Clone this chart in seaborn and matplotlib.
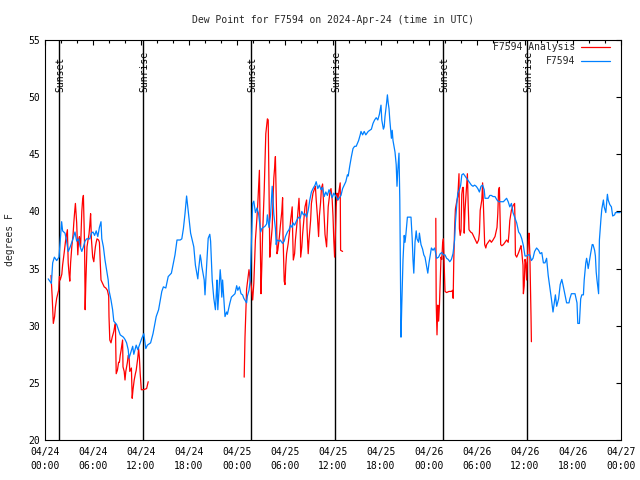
import matplotlib
matplotlib.use("Agg")
import matplotlib.pyplot as plt
import matplotlib.transforms as mtransforms
from matplotlib.lines import Line2D
import numpy as np
import pandas as pd
import seaborn as sns

# ---------------- data ----------------
title = "Dew Point for F7594 on 2024-Apr-24 (time in UTC)"
ylabel = "degrees F"
series_names = ["F7594 Analysis", "F7594"]
series_colors = ["#ff0000", "#0080ff"]

xtick_hours = [0, 6, 12, 18, 24, 30, 36, 42, 48, 54, 60, 66, 72]
xtick_labels = ["04/24\n00:00", "04/24\n06:00", "04/24\n12:00", "04/24\n18:00",
                "04/25\n00:00", "04/25\n06:00", "04/25\n12:00", "04/25\n18:00",
                "04/26\n00:00", "04/26\n06:00", "04/26\n12:00", "04/26\n18:00",
                "04/27\n00:00"]
ytick_values = [20, 25, 30, 35, 40, 45, 50, 55]

event_hours = [1.75, 12.25, 25.75, 36.25, 49.75, 60.25]
event_labels = ["Sunset", "Sunrise", "Sunset", "Sunrise", "Sunset", "Sunrise"]

# observed station dew point (hours since 04/24 00:00 UTC, degF)
station_hours = [
    0.4, 0.8, 0.96, 1.17, 1.46, 1.75, 1.9, 2.08, 2.2, 2.5, 2.7, 2.9, 3.1, 3.3, 3.5, 3.75, 3.96,
    4.2, 4.4, 4.6, 4.8, 5.0, 5.2, 5.6, 5.8, 6.0, 6.2, 6.4, 6.6, 6.8, 7.0, 7.1, 7.3, 7.5, 7.7,
    7.9, 8.0, 8.25, 8.45, 8.6, 8.96, 9.2, 9.4, 9.8, 10.0, 10.2, 10.4, 10.5, 10.7, 10.96, 11.1,
    11.4, 11.6, 11.8, 12.1, 12.35, 12.6, 12.8, 13.2, 13.5, 13.9, 14.2, 14.6, 14.8, 15.1, 15.4,
    15.8, 16.0, 16.25, 16.5, 16.9, 17.1, 17.3, 17.5, 17.7, 17.8, 18.0, 18.2, 18.4, 18.6, 18.8,
    18.9, 19.1, 19.2, 19.4, 19.5, 19.6, 19.9, 20.0, 20.1, 20.4, 20.6, 20.7, 20.8, 20.9, 21.1,
    21.3, 21.4, 21.5, 21.6, 21.9, 22.0, 22.1, 22.2, 22.4, 22.5, 22.7, 22.8, 23.1, 23.3, 23.75,
    23.96, 24.1, 24.3, 24.5, 24.7, 24.85, 25.2, 25.3, 25.5, 25.65, 25.8, 25.96, 26.1, 26.3,
    26.5, 26.7, 26.96, 27.1, 27.3, 27.5, 27.7, 27.8, 28.0, 28.2, 28.4, 28.5, 28.6, 28.8, 28.9,
    29.0, 29.3, 29.4, 29.7, 29.9, 30.05, 30.3, 30.5, 30.7, 30.9, 31.0, 31.2, 31.45, 31.7, 31.9,
    32.1, 32.3, 32.5, 32.7, 32.9, 33.1, 33.3, 33.5, 33.75, 33.9, 34.1, 34.3, 34.5, 34.7, 34.9,
    35.1, 35.3, 35.5, 35.7, 35.9, 36.1, 36.4, 36.6, 36.8, 37.0, 37.2, 37.4, 37.6, 37.8, 37.9,
    38.1, 38.3, 38.5, 38.7, 38.9, 39.2, 39.4, 39.5, 39.7, 39.9, 40.1, 40.4, 40.6, 40.8, 41.0,
    41.2, 41.4, 41.6, 41.8, 42.0, 42.1, 42.3, 42.4, 42.5, 42.7, 42.8, 42.9, 43.0, 43.1, 43.3,
    43.4, 43.5, 43.75, 43.9, 44.0, 44.1, 44.25, 44.35, 44.45, 44.5, 44.6, 44.75, 44.9, 45.0,
    45.1, 45.3, 45.5, 45.75, 45.9, 46.0, 46.1, 46.25, 46.4, 46.5, 46.7, 46.8, 47.0, 47.2,
    47.35, 47.5, 47.7, 47.85, 48.0, 48.2, 48.3, 48.5, 48.7, 48.96, 49.2, 49.4, 49.6, 49.8,
    50.0, 50.2, 50.4, 50.6, 50.8, 51.0, 51.2, 51.3, 51.5, 51.6, 51.8, 51.96, 52.1, 52.3, 52.4,
    52.6, 52.8, 53.0, 53.3, 53.5, 53.7, 53.9, 54.1, 54.3, 54.5, 54.7, 54.9, 55.0, 55.2, 55.4,
    55.6, 55.8, 56.0, 56.25, 56.5, 56.7, 56.9, 57.1, 57.3, 57.5, 57.7, 57.9, 58.1, 58.3, 58.5,
    58.7, 58.96, 59.2, 59.4, 59.6, 59.8, 60.0, 60.2, 60.4, 60.6, 60.8, 61.0, 61.2, 61.45, 61.7,
    61.9, 62.1, 62.3, 62.5, 62.7, 62.9, 63.1, 63.3, 63.5, 63.8, 63.96, 64.2, 64.4, 64.6, 64.8,
    65.0, 65.2, 65.5, 65.6, 65.8, 66.0, 66.25, 66.5, 66.6, 66.8, 66.96, 67.1, 67.3, 67.4, 67.6,
    67.7, 67.8, 67.9, 68.1, 68.2, 68.3, 68.4, 68.5, 68.7, 68.8, 68.9, 69.0, 69.1, 69.2, 69.3,
    69.5, 69.6, 69.8, 69.9, 70.1, 70.3, 70.4, 70.6, 70.8, 70.96, 71.2, 71.3, 71.7, 71.9]
station_dewpt = [
    34.1, 33.7, 35.5, 36.0, 35.7, 36.0, 37.4, 39.1, 38.3, 38.1, 37.4, 36.5, 36.8, 37.2, 37.6, 38.2, 37.4,
    37.6, 36.9, 36.5, 36.9, 37.4, 37.6, 37.6, 38.1, 38.2, 37.9, 38.3, 37.8, 38.6, 39.1, 37.6, 36.9, 35.75, 34.9,
    34.0, 33.1, 32.25, 31.4, 30.4, 30.1, 29.6, 29.2, 29.0, 28.8, 28.5, 27.9, 27.15, 27.6, 28.2, 27.5,
    28.3, 27.9, 28.3, 28.9, 29.3, 28.0, 28.3, 28.5, 29.3, 30.8, 31.4, 33.0, 33.4, 33.3, 34.3,
    34.6, 35.3, 36.2, 37.5, 37.5, 37.6, 38.5, 39.8, 41.35, 40.7, 39.4, 38.1, 37.5, 36.9, 35.3,
    34.9, 34.1, 34.9, 36.2, 35.8, 35.2, 34.0, 32.7, 34.0, 37.65, 38.0, 37.4, 35.7, 34.0, 32.4,
    31.4, 32.6, 34.0, 31.4, 34.9, 34.0, 32.5, 34.0, 31.8, 30.8, 31.2, 31.0, 31.95, 32.5, 32.8,
    33.5, 33.1, 33.4, 32.8, 32.7, 32.4, 32.0, 32.6, 33.1, 34.0, 37.2, 40.7, 40.9, 39.9,
    40.3, 39.8, 38.2, 38.5, 38.6, 38.7, 38.9, 39.7, 38.6, 39.7, 42.2, 41.1, 39.8, 38.5, 37.1,
    37.5, 37.4, 37.5, 37.2, 37.4, 37.8, 38.2, 38.4, 38.8, 38.6, 39.0, 38.8, 39.2, 39.5, 39.4,
    40.0, 39.7, 39.8, 39.5, 40.1, 41.0, 41.7, 42.0, 42.3, 42.6, 42.0, 42.3, 41.9, 42.1, 41.3,
    41.7, 41.4, 41.9, 41.6, 41.2, 41.6, 41.3, 41.0, 41.2, 41.4, 42.0, 42.3, 42.6, 43.2, 43.1,
    44.0, 44.8, 45.5, 45.7, 45.7, 46.2, 46.7, 47.0, 46.7, 47.0, 46.7, 47.0, 47.1, 47.2, 47.7,
    48.0, 48.2, 48.0, 48.5, 49.3, 48.0, 47.2, 47.4, 48.3, 49.5, 50.2, 49.5, 49.0, 48.0, 46.4,
    47.1, 46.2, 45.2, 44.1, 42.2, 43.6, 45.1, 41.0, 33.1, 29.0, 31.9, 35.75, 37.9, 37.3,
    37.9, 39.5, 39.5, 39.5, 37.6, 35.75, 34.6, 37.3, 38.3, 37.6, 37.3, 38.1, 37.1, 36.7,
    36.2, 36.0, 35.2, 34.6, 35.5, 36.4, 36.8, 36.6, 36.8, 35.9, 36.0, 36.3, 36.4, 36.2,
    36.2, 35.9, 35.8, 35.6, 35.8, 36.3, 37.5, 39.0, 40.85, 41.6, 41.9, 42.3, 43.2, 43.3, 43.2,
    43.0, 42.8, 42.6, 42.3, 42.2, 42.3, 42.2, 42.0, 41.7, 42.2, 42.3, 41.9, 41.15, 41.15, 41.15,
    41.4, 41.4, 41.3, 41.3, 41.0, 40.85, 40.85, 40.85, 40.85, 41.0, 41.15, 40.85, 40.4, 40.7, 39.9,
    39.5, 39.0, 38.2, 38.0, 37.6, 37.0, 36.1, 36.1, 36.2, 36.2, 35.7, 35.9, 36.5, 36.8, 36.6,
    36.3, 36.4, 35.5, 35.5, 35.9, 34.4, 33.4, 32.35, 31.2, 32.7, 31.7, 32.35, 33.6, 34.05, 33.4,
    32.7, 32.0, 32.0, 32.35, 32.8, 32.8, 32.8, 32.0, 30.2, 30.2, 32.35, 32.7, 32.7, 34.0, 35.5,
    35.9, 35.5, 35.0, 35.9, 36.3, 36.7, 37.1, 37.1, 36.6, 36.1, 34.7, 34.0, 33.4, 32.8, 37.5,
    39.4, 40.2, 41.0, 40.4, 39.9, 41.5, 41.0, 40.6, 40.4, 39.6, 39.7, 39.9, 39.9, 39.9]

# analysis dew point, three separate runs (gaps between them)
analysis1_hours = [
    0.75, 0.9, 1.04, 1.2, 1.3, 1.46, 1.7, 1.8, 1.9, 2.1, 2.2, 2.4, 2.5, 2.6, 2.8, 2.9, 3.0, 3.1,
    3.2, 3.35, 3.5, 3.6, 3.7, 3.8, 3.96, 4.1, 4.2, 4.3, 4.45, 4.6, 4.7, 4.8, 4.95, 5.02, 5.1,
    5.25, 5.4, 5.5, 5.6, 5.7, 5.8, 5.96, 6.1, 6.2, 6.3, 6.4, 6.5, 6.7, 6.8, 7.0, 7.2, 7.4, 7.6,
    7.8, 7.96, 8.0, 8.1, 8.25, 8.4, 8.6, 8.7, 8.8, 8.85, 8.9, 9.05, 9.2, 9.3, 9.4, 9.5, 9.7,
    9.75, 9.9, 10.0, 10.1, 10.3, 10.4, 10.5, 10.6, 10.8, 10.9, 11.0, 11.15, 11.3, 11.4, 11.6,
    11.7, 11.8, 11.9, 12.04, 12.3, 12.7, 12.9]
analysis1_dewpt = [
    34.4, 32.5, 30.2, 30.8, 31.6, 32.4, 33.1, 34.3, 34.0, 34.5, 35.3, 36.4, 37.0, 37.6, 38.4, 35.5, 34.6, 33.9,
    35.5, 36.9, 37.9, 39.0, 39.9, 40.7, 39.0, 36.2, 37.5, 37.8, 36.9, 40.0, 41.0, 41.4, 36.9, 31.4, 33.7,
    36.9, 37.6, 38.0, 38.8, 39.8, 37.6, 36.0, 35.6, 36.3, 36.9, 37.3, 37.6, 37.5, 37.3, 34.0, 33.7, 33.4, 33.3,
    33.1, 32.6, 30.8, 28.75, 28.5, 29.0, 29.5, 29.9, 30.2, 28.0, 25.8, 26.1, 26.8, 26.8, 27.4, 27.8, 28.75,
    26.4, 26.0, 25.25, 26.0, 26.8, 27.4, 27.4, 26.0, 26.3, 23.65, 24.4, 25.25, 25.8, 26.1, 27.2,
    28.0, 27.2, 25.8, 24.4, 24.4, 24.5, 25.1]

analysis2_hours = [
    24.9, 25.0, 25.1, 25.2, 25.5, 25.65, 25.8, 25.96, 26.1, 26.3, 26.5, 26.6, 26.8, 26.9, 27.0,
    27.1, 27.2, 27.4, 27.5, 27.6, 27.8, 27.9, 28.0, 28.1, 28.2, 28.4, 28.5, 28.6, 28.7, 28.8,
    28.95, 29.0, 29.1, 29.3, 29.4, 29.6, 29.7, 29.75, 29.9, 30.0, 30.1, 30.2, 30.4, 30.5, 30.6,
    30.7, 30.9, 30.96, 31.04, 31.2, 31.3, 31.45, 31.6, 31.75, 31.9, 31.96, 32.1, 32.2, 32.4,
    32.5, 32.7, 32.75, 32.9, 33.0, 33.2, 33.3, 33.5, 33.6, 33.8, 33.9, 34.05, 34.2, 34.3, 34.45,
    34.55, 34.7, 34.8, 35.0, 35.2, 35.3, 35.4, 35.6, 35.75, 35.9, 36.0, 36.1, 36.2, 36.3, 36.4,
    36.5, 36.6, 36.75, 36.9, 36.95, 37.2]
analysis2_dewpt = [
    25.5, 29.0, 31.1, 33.2, 34.9, 34.0, 33.4, 32.25, 33.7, 37.5, 39.5, 40.7, 43.6, 38.0, 32.8,
    35.2, 38.0, 41.8, 44.35, 46.8, 48.1, 48.0, 42.2, 36.0, 36.9, 38.6, 40.9, 42.9, 43.8, 44.8,
    39.6, 36.3, 36.6, 37.8, 38.6, 40.0, 41.2, 38.0, 33.9, 33.6, 35.3, 36.3, 37.2, 37.8, 38.4,
    39.2, 40.4, 38.0, 35.75, 36.3, 37.5, 38.6, 39.8, 41.15, 38.6, 36.0, 36.9, 38.0, 39.6,
    40.4, 41.0, 38.6, 36.3, 37.5, 39.2, 40.7, 41.6, 41.8, 42.2, 41.0, 39.6, 37.8, 39.6, 40.8,
    42.0, 42.4, 41.0, 38.0, 36.9, 38.6, 40.4, 41.6, 42.0, 41.0, 39.6, 37.5, 36.0, 38.0, 40.4,
    41.6, 41.0, 41.8, 42.5, 36.6, 36.5]

analysis3_hours = [
    48.85, 48.9, 49.0, 49.1, 49.2, 49.3, 49.5, 49.6, 49.7, 49.8, 50.0, 50.2, 50.5, 50.8, 50.95,
    51.02, 51.1, 51.2, 51.3, 51.5, 51.6, 51.75, 51.8, 51.9, 52.0, 52.1, 52.2, 52.3, 52.4, 52.5,
    52.8, 52.9, 53.0, 53.2, 53.4, 53.6, 53.8, 54.0, 54.2, 54.3, 54.4, 54.6, 54.7, 54.8, 54.96,
    55.1, 55.2, 55.4, 55.6, 55.8, 56.0, 56.25, 56.5, 56.6, 56.7, 56.8, 56.9, 56.96, 57.1, 57.3,
    57.5, 57.7, 57.9, 58.0, 58.1, 58.3, 58.5, 58.7, 58.75, 58.8, 58.96, 59.2, 59.4, 59.5, 59.6,
    59.75, 59.8, 59.9, 60.0, 60.1, 60.2, 60.3, 60.4, 60.5, 60.6, 60.75, 60.8]
analysis3_dewpt = [
    39.4, 32.0, 29.2, 31.8, 30.4, 31.7, 36.0, 35.8, 37.2, 37.6, 33.0, 32.9, 33.0, 33.0, 33.1,
    32.4, 35.8, 38.5, 40.2, 41.0, 41.3, 43.3, 38.5, 37.9, 38.3, 41.5, 42.1, 42.1, 38.1, 40.1,
    43.3, 40.6, 38.4, 38.2, 38.1, 37.8, 37.5, 37.2, 37.5, 38.1, 40.1, 41.0, 42.5, 40.6, 37.1,
    36.8, 37.1, 37.3, 37.5, 37.3, 37.5, 37.8, 38.6, 39.8, 41.9, 42.1, 39.0, 37.1, 37.0, 37.1,
    37.3, 37.5, 37.3, 38.1, 39.2, 40.1, 40.5, 40.7, 39.2, 36.2, 36.0, 36.4, 36.8, 37.0, 36.4,
    35.3, 32.8, 33.5, 35.8, 35.5, 34.0, 35.8, 37.3, 38.1, 36.4, 30.9, 28.6]

# ---------------- figure ----------------
sns.set_style("white")
plt.rcParams["font.family"] = ["DejaVu Sans Mono", "DejaVu Sans"]
plt.rcParams["font.size"] = 7

fig = plt.figure(figsize=(6.4, 4.8), dpi=100)
ax = fig.add_axes([45 / 640, 40 / 480, 576 / 640, 400 / 480])

analysis_df = pd.concat([
    pd.DataFrame({"hour": analysis1_hours, "dewpt": analysis1_dewpt, "seg": 1}),
    pd.DataFrame({"hour": analysis2_hours, "dewpt": analysis2_dewpt, "seg": 2}),
    pd.DataFrame({"hour": analysis3_hours, "dewpt": analysis3_dewpt, "seg": 3}),
], ignore_index=True)
station_df = pd.DataFrame({"hour": station_hours, "dewpt": station_dewpt, "seg": 0})

# sunrise / sunset markers
for h, lab in zip(event_hours, event_labels):
    ax.axvline(h, color="black", lw=1.0, zorder=1)
    off = mtransforms.offset_copy(ax.transData, fig=fig, x=1.5, y=0, units="dots")
    ax.text(h, 50.45, lab, rotation=90, ha="center", va="bottom", transform=off,
            fontsize=7, color="black", zorder=3)

sns.lineplot(data=analysis_df, x="hour", y="dewpt", units="seg", estimator=None,
             sort=False, color=series_colors[0], lw=0.9, ax=ax, legend=False, zorder=2)
sns.lineplot(data=station_df, x="hour", y="dewpt", units="seg", estimator=None,
             sort=False, color=series_colors[1], lw=0.9, ax=ax, legend=False, zorder=2.5)

ax.set_xlim(0, 72)
ax.set_ylim(20, 55)
ax.set_xticks(xtick_hours)
ax.set_xticklabels(xtick_labels)
ax.set_xticks(np.arange(0, 73, 2), minor=True)
ax.set_yticks(ytick_values)
for lab in ax.get_xticklabels():
    lab.set_linespacing(1.45)

ax.tick_params(axis="both", which="both", direction="in", top=True, right=True,
               color="black", width=0.8, labelsize=7, labelcolor="black")
ax.tick_params(axis="both", which="major", length=3.6)
ax.tick_params(axis="x", which="minor", length=2.2)
ax.tick_params(axis="x", which="major", pad=5)
ax.tick_params(axis="y", which="major", pad=3.6)
for s in ax.spines.values():
    s.set_visible(True)
    s.set_color("black")
    s.set_linewidth(0.8)

ax.set_xlabel("")
ax.set_ylabel(ylabel, fontsize=7)
ax.yaxis.set_label_coords(-0.052, 0.5)
ax.set_title(title, fontsize=7, pad=12.5)

handles = [Line2D([], [], color=c, lw=0.9) for c in series_colors]
ax.legend(handles, series_names, loc="upper right", frameon=False, markerfirst=False,
          fontsize=7, handlelength=3.0, handletextpad=0.6, labelspacing=0.4,
          borderpad=0, borderaxespad=0, bbox_to_anchor=(1 - 11 / 576, 1 - 2.5 / 400))

ax.set_facecolor("white")
fig.patch.set_facecolor("white")
fig.savefig("out.png", dpi=100)
